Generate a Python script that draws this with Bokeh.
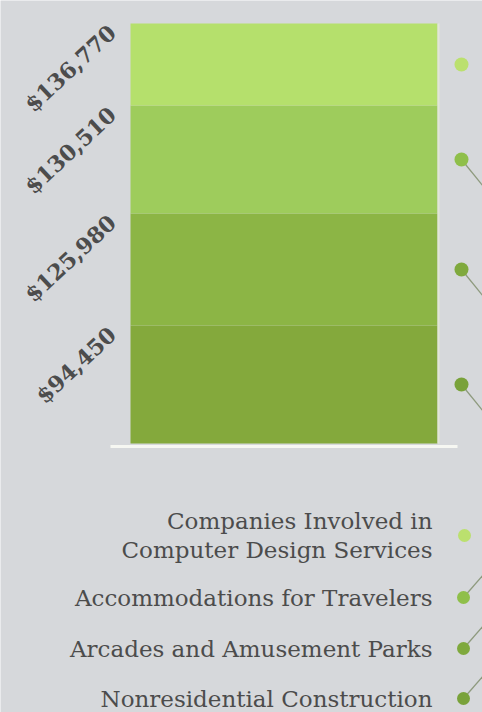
import math
from bokeh.plotting import figure
from bokeh.models import Range1d, ColumnDataSource
from bokeh.embed import file_html
from bokeh.resources import INLINE
from bokeh.core.properties import value

# ---- data (bottom to top) ----
salary_labels = ["$94,450", "$125,980", "$130,510", "$136,770"]
industries = ["Nonresidential Construction",
              "Arcades and Amusement Parks",
              "Accommodations for Travelers",
              "Companies Involved in\nComputer Design Services"]
segment_heights = [118, 112, 108, 82]   # visual height of each band
seg_colors = ["#84a93c", "#8cb545", "#9ecc5c", "#b5e06c"]
dot_colors = ["#79a23a", "#7fa93d", "#8fbf4a", "#bbe06e"]

W, H = 482, 712
BG = "#d6d8db"
TEXT = "#4c4c4c"
SERIF = "DejaVu Serif"

bottoms = []
tops = []
acc = 0
for h in segment_heights:
    bottoms.append(acc)
    acc += h
    tops.append(acc)

p = figure(width=W, height=H, output_backend="svg", toolbar_location=None,
           x_range=Range1d(0, W), y_range=Range1d(-269, 443),
           min_border=0, outline_line_color=None)
p.axis.visible = False
p.grid.visible = False
p.background_fill_color = BG
p.border_fill_color = BG

# stacked column
src = ColumnDataSource(dict(bottom=bottoms, top=tops, color=seg_colors,
                            left=[130] * 4, right=[437] * 4))
p.quad(left="left", right="right", bottom="bottom", top="top",
       fill_color="color", line_color=None, source=src)
# light edge at right of bar
p.segment(x0=[438], y0=[0], x1=[438], y1=[tops[-1]], line_color="#e2e6d6", line_width=2)
# base line
p.segment(x0=[110], y0=[-3], x1=[457], y1=[-3], line_color="#f6f7f2", line_width=3)

# salary labels, rotated
ang = math.radians(43)
p.text(x=[103] * 4, y=[t + 4 for t in tops], text=salary_labels,
       angle=ang, text_align="right", text_baseline="top",
       text_font=value(SERIF), text_font_size="22px", text_font_style="bold",
       text_color=TEXT)

# right-side dots at band middles
mids = [(b + t) / 2 for b, t in zip(bottoms, tops)]
dot_x = [461] * 4
p.segment(x0=dot_x[:3], y0=mids[:3], x1=[d + 26 for d in dot_x[:3]],
          y1=[m - 32 for m in mids[:3]], line_color="#8e9a7e", line_width=1.3)
p.scatter(x=dot_x, y=mids, size=14, fill_color=dot_colors, line_color=None)

# legend rows
leg_y = [-255, -205, -154, -92]
leg_dot_x = [463, 463, 463, 464]
p.segment(x0=leg_dot_x[:3], y0=leg_y[:3], x1=[d + 26 for d in leg_dot_x[:3]],
          y1=[y + 30 for y in leg_y[:3]], line_color="#8e9a7e", line_width=1.3)
p.scatter(x=leg_dot_x, y=leg_y, size=13, fill_color=dot_colors, line_color=None)
p.text(x=[432] * 4, y=leg_y, text=industries, text_align="right",
       text_baseline="middle", text_font=value(SERIF), text_font_size="23px",
       text_color=TEXT, text_line_height=1.08)

open("out.html", "w").write(file_html(p, INLINE))
